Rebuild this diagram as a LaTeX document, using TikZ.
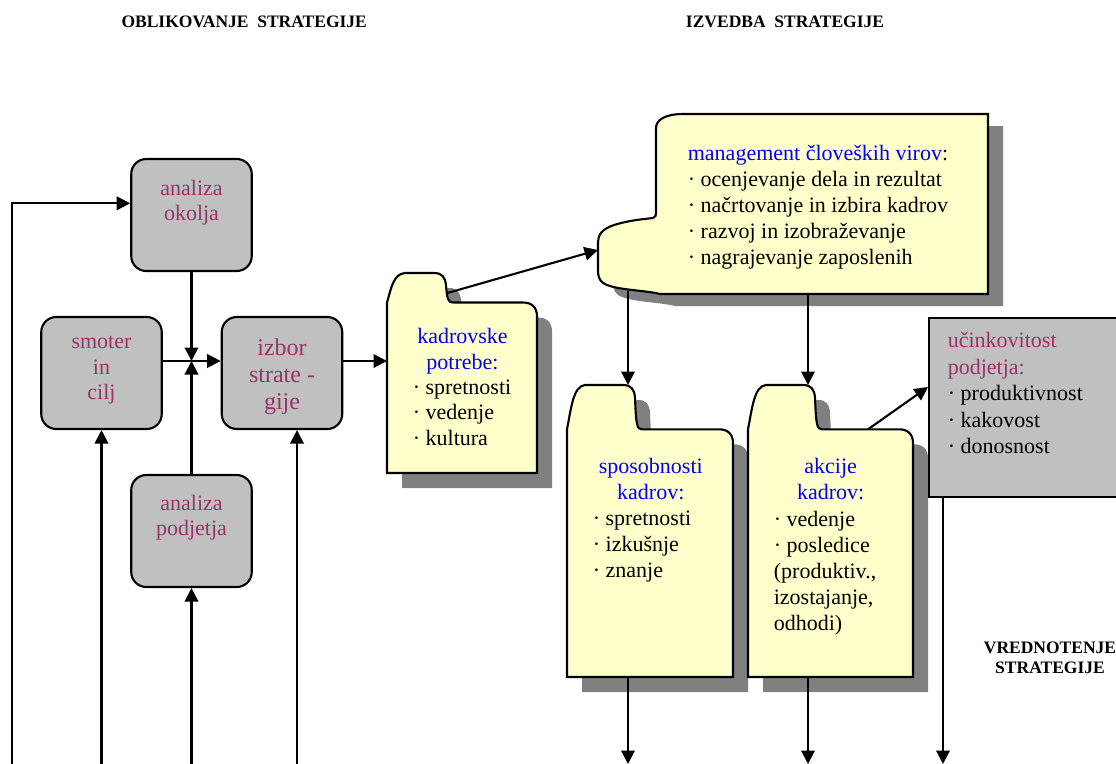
\documentclass[tikz,border=0pt]{standalone}
\usepackage{fontspec}
\setmainfont{Liberation Serif}
\usetikzlibrary{arrows.meta,calc}
\definecolor{gfill}{HTML}{C0C0C0}
\definecolor{yfill}{HTML}{FFFFCC}
\definecolor{shd}{HTML}{808080}
\definecolor{plum}{HTML}{993366}
\definecolor{blu}{HTML}{0000FF}
\newcommand{\hs}{\rule{0pt}{18pt}}
% folder outline: x0, x1, body top, tab top, bottom, tab right
\newcommand{\fpath}[6]{({#1},{#5}) -- ({#1},{#3}) .. controls ({#1+4},{#3-0.45*(#3-#4)}) and ({#1+6},{#4+1}) .. ({#1+18},{#4}) -- ({#6-14},{#4}) .. controls ({#6-6},{#4}) and ({#6-3},{#4+4}) .. ({#6-2},{#4+12}) .. controls ({#6-1},{#3-4}) and ({#6},{#3}) .. ({#6+5},{#3}) -- ({#2-14},{#3}) .. controls ({#2-5},{#3}) and ({#2},{#3+5}) .. ({#2},{#3+14}) -- ({#2},{#5}) -- cycle}
\newcommand{\mpath}{(683,114) -- (988,114) -- (988,294) -- (660,294) .. controls (645,290) and (610,290) .. (602,282) .. controls (599,279) and (598,276) .. (598,270) -- (598,242) .. controls (598,235) and (602,229) .. (614,225) .. controls (630,220) and (645,219) .. (653,218) .. controls (656,217) and (656,215) .. (656,212) -- (656,128) .. controls (656,120) and (665,114) .. (683,114) -- cycle}
\begin{document}
\begin{tikzpicture}[x=1pt,y=-1pt,line width=2.1pt,
  arr/.style={-{Triangle[length=13.5pt,width=13.5pt]}},
  gbox/.style={draw, fill=gfill, rounded corners=15pt, minimum width=120.5pt, minimum height=112pt, inner sep=0pt},
  gtxt/.style={anchor=north, inner sep=0pt, yshift=-3.5pt, align=center, text=plum, font=\fontsize{22}{25.5}\selectfont, execute at begin node=\hs},
  ytitle/.style={anchor=north, inner sep=0pt, yshift=-3.5pt, align=center, text=blu, font=\fontsize{22}{26.3}\selectfont, execute at begin node=\hs},
  ylist/.style={anchor=north west, inner sep=0pt, yshift=-3.5pt, align=left, font=\fontsize{22}{26.2}\selectfont, execute at begin node=\hs},
  head/.style={inner sep=0pt, font=\bfseries\fontsize{17.5}{20}\selectfont},
  fold/.style={draw, fill=yfill},
  shadow/.style={fill=shd}]
\useasboundingbox (0,0) rectangle (1116,763);

% headings
\node[head, anchor=base] (h1) at (244.2,27.3) {OBLIKOVANJE\ \ STRATEGIJE};
\node[head, anchor=base] (h2) at (785,27.3) {IZVEDBA\ \ STRATEGIJE};
\node[head, anchor=north, align=center, execute at begin node=\hs] (h3) at (1050,641) {VREDNOTENJE\\STRATEGIJE};

% gray rounded boxes
\node[gbox] (okolja) at (191.5,215) {};
\node[gbox] (smoter) at (101.5,373) {};
\node[gbox] (izbor) at (282,373) {};
\node[gbox] (podjetja) at (191.5,531) {};
\node[gtxt] (tokolja) at (191.5,175.3) {analiza\\okolja};
\node[gtxt] (tsmoter) at (101.5,332) {smoter\\in\\cilj};
\node[gtxt, font=\fontsize{24}{27}\selectfont] (tizbor) at (282,334) {izbor\\strate -\\gije};
\node[gtxt] (tpodjetja) at (191.5,490.3) {analiza\\podjetja};

% shadows
\fill[shadow, shift={(15,15)}] \fpath{387}{537}{302.5}{273}{473}{448};
\fill[shadow, shift={(15,12)}] \mpath;
\fill[shadow, shift={(15,15)}] \fpath{567}{733}{429.3}{385}{677}{637};
\fill[shadow, shift={(15,15)}] \fpath{748}{913}{429.3}{385}{677}{817};

% folders and note
\draw[fold] \fpath{387}{537}{302.5}{273}{473}{448};
\draw[fold] \mpath;
\draw[fold] \fpath{567}{733}{429.3}{385}{677}{637};
\draw[fold] \fpath{748}{913}{429.3}{385}{677}{817};
\node[draw, fill=gfill, anchor=north west, minimum width=210pt, minimum height=179pt, inner sep=0pt] (ucin) at (928,317) {};

% texts in folders
\node[ytitle, font=\fontsize{22}{25.7}\selectfont] (tkad) at (462.5,323.7) {kadrovske\\potrebe:};
\node[ylist, font=\fontsize{22}{25.7}\selectfont] (lkad) at (411.8,375.1) {· spretnosti\\· vedenje\\· kultura};
\node[ylist, font=\fontsize{22}{26}\selectfont] (lmg) at (686.8,140.3) {\textcolor{blu}{management človeških virov}:\\· ocenjevanje dela in rezultat\\· načrtovanje in izbira kadrov\\· razvoj in izobraževanje\\· nagrajevanje zaposlenih};
\node[ytitle] (tspo) at (650.8,453.7) {sposobnosti\\kadrov:};
\node[ylist] (lspo) at (591.8,506.3) {· spretnosti\\· izkušnje\\· znanje};
\node[ytitle] (takc) at (830.7,453.7) {akcije\\kadrov:};
\node[ylist, font=\fontsize{22}{26}\selectfont] (lakc) at (772.8,506.3) {· vedenje\\· posledice\\(produktiv.,\\izostajanje,\\odhodi)};
\node[ylist, font=\fontsize{22}{26.4}\selectfont] (lucin) at (946.8,328) {\textcolor{plum}{učinkovitost}\\\textcolor{plum}{podjetja:}\\· produktivnost\\· kakovost\\· donosnost};

% named connection points
\coordinate (X) at (191.5,361);
\coordinate (kadL) at (387,361);
\coordinate (kadT) at (447.5,293);
\coordinate (mgL) at (598,250);
\coordinate (mgB1) at (628,291);
\coordinate (mgB2) at (808,294);
\coordinate (spT) at (628,385);
\coordinate (akT) at (808,385);
\coordinate (akR) at (868,429.3);
\coordinate (ucL) at (928,387);
\coordinate (spB) at (628,677);
\coordinate (akB) at (808,677);
\coordinate (ucB) at (943,496);
\coordinate (b0) at (11.7,764);
\coordinate (b1) at (101.5,764);
\coordinate (b2) at (191.5,764);
\coordinate (b3) at (297,764);
\coordinate (e1) at (628,764);
\coordinate (e2) at (808,764);
\coordinate (e3) at (943,764);
\coordinate (okIn) at (okolja.west |- 0,203.3);

% connectors, left part
\draw[arr] (b0) |- (okIn);
\draw[arr] (b1) -- (smoter.south);
\draw[arr] (b2) -- (podjetja.south);
\draw[arr] (b3) -- (b3 |- izbor.south);
\draw[arr] (okolja.south) -- (X);
\draw[arr] (podjetja.north) -- (X);
\draw[arr] (smoter.east |- X) -- (izbor.west |- X);
\draw[arr] (izbor.east |- X) -- (kadL);

% connectors, right part
\draw[arr] (kadT) -- (mgL);
\draw[arr] (mgB1) -- (spT);
\draw[arr] (mgB2) -- (akT);
\draw[arr] (akR) -- (ucL);
\draw[arr] (spB) -- (e1);
\draw[arr] (akB) -- (e2);
\draw[arr] (ucB) -- (e3);
\end{tikzpicture}
\end{document}
